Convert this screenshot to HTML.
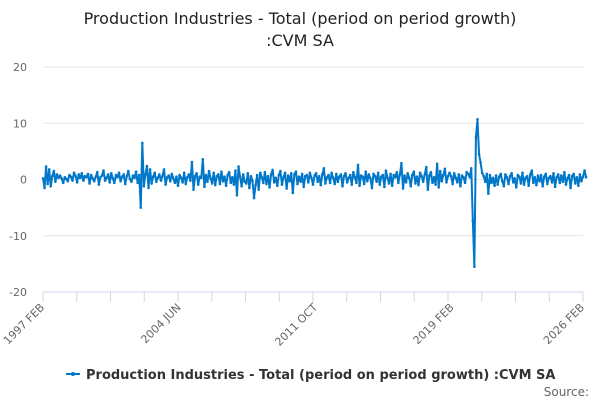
<!DOCTYPE html>
<html><head><meta charset="utf-8"><style>
body{margin:0;background:#fff;font-family:"DejaVu Sans","Liberation Sans",sans-serif}
svg text{font-family:"DejaVu Sans","Liberation Sans",sans-serif}
</style></head><body>
<svg id="chart" width="600" height="400" viewBox="0 0 600 400">
<text x="300" y="24" text-anchor="middle" font-size="16" fill="#222">Production Industries - Total (period on period growth)</text>
<text x="300" y="46" text-anchor="middle" font-size="16" fill="#222">:CVM SA</text>
<g id="grid"></g><g id="xaxis"></g><g id="series"></g>
<g>
<line x1="66" y1="374" x2="80" y2="374" stroke="#0077c8" stroke-width="2"/><circle cx="73" cy="374" r="2" fill="#0077c8"/>
<text x="86" y="379" font-size="13" font-weight="bold" fill="#333">Production Industries - Total (period on period growth) :CVM SA</text>
</g>
<text x="589" y="396" text-anchor="end" font-size="12" fill="#666">Source:</text>
</svg>
<script>
const yTicks=[20,10,0,-10,-20];
const xLabels=["1997 FEB","2004 JUN","2011 OCT","2019 FEB","2026 FEB"];
const xLabelIdx=[0,88,176,264,348];
const values=[
0.2,-1.5,2.3,-0.8,1.8,-1.2,0.6,1.5,-0.4,0.9,0.3,
0.7,0.2,-0.6,0.4,0.1,-0.3,0.8,0.5,-0.2,1.2,0.6,-0.5,
0.9,0.3,1.1,-0.2,0.6,0.4,1.0,-0.7,0.8,0.2,-0.3,0.5,
1.3,-0.9,0.4,0.7,1.6,-0.2,0.3,0.9,-0.5,1.1,0.2,-0.6,
0.8,0.4,1.2,-0.3,0.5,0.9,-0.8,0.6,1.5,0.1,-0.4,0.7,
0.3,1.4,-0.6,0.8,-5.0,6.5,-1.2,0.9,2.4,-1.5,1.8,-0.7,
0.5,1.2,-0.4,0.3,0.9,-0.2,0.6,1.8,-0.9,0.4,0.7,-0.3,
1.0,0.2,-0.6,0.5,-1.1,0.8,0.3,-0.5,1.2,-0.8,0.4,0.9,
-0.2,3.1,-1.8,0.6,1.1,-0.9,0.5,0.3,3.6,-1.3,0.8,-0.4,
1.5,0.2,-0.7,1.2,-1.0,0.6,0.9,-0.8,1.4,-0.3,0.5,-1.1,
0.8,1.3,-0.6,0.4,-0.9,1.6,-2.8,2.3,0.5,-1.2,0.9,-0.4,
-0.7,1.1,-1.5,0.6,-0.2,-3.3,-1.0,0.8,-1.8,1.2,0.4,-0.6,
1.3,-0.8,0.6,-1.4,0.9,1.7,-0.5,0.3,-1.1,0.8,1.5,-0.9,
0.4,1.2,-1.6,0.7,-0.3,1.1,-2.4,0.9,1.4,-0.8,0.5,-0.4,
1.0,-1.3,0.6,0.8,-0.5,1.2,0.3,-0.9,0.7,1.1,-0.4,0.6,
-1.0,0.9,2.0,-0.7,0.4,0.8,-0.6,1.2,0.3,-0.8,1.0,-0.4,
0.5,0.9,-1.2,0.6,1.1,-0.5,0.3,0.8,-0.9,1.3,0.4,-0.6,
2.6,-1.1,0.7,0.5,-0.8,1.4,-0.3,0.9,0.2,-1.5,1.0,0.6,
-0.4,1.2,-0.9,0.5,0.8,-1.3,1.6,0.3,-0.7,1.0,-1.1,0.8,
0.4,1.3,-0.6,0.9,2.9,-1.6,0.7,-0.5,1.1,0.3,-1.2,0.8,
1.4,-0.7,0.5,-1.0,1.2,0.6,-0.4,0.9,2.2,-1.8,0.7,1.3,
-0.6,0.4,-0.9,2.8,-1.4,1.5,-0.3,0.8,1.9,-0.5,0.6,1.2,
0.6,-0.8,1.1,0.3,-0.5,0.9,-1.2,0.7,0.4,-0.6,1.3,
1.0,0.4,2.0,-7.3,-15.5,7.5,10.7,4.5,3.0,1.2,0.6,-0.4,
1.0,-2.5,0.8,-0.6,0.3,-1.1,0.7,-0.9,0.5,1.0,-0.3,-1.2,
0.9,0.4,-0.8,0.6,1.1,-0.5,0.2,-1.4,0.8,0.5,-0.7,1.2,
-0.9,0.3,0.6,-1.1,0.9,1.6,-0.6,0.4,-1.0,0.7,-0.3,0.8,
-1.2,0.5,1.0,-0.8,0.3,0.6,-0.5,1.1,-1.3,0.4,0.9,-0.6,
0.7,-0.4,1.3,-0.9,0.2,0.8,-1.5,0.6,1.0,-0.7,0.4,-1.1,
0.9,-0.3,0.5,1.6,0.4
];
const NS="http://www.w3.org/2000/svg";
const L=43,R=583,T=67,B=292,yMin=-20,yMax=20,N=348;
const xs=i=>L+(R-L)*i/N;
const ys=v=>B-(v-yMin)/(yMax-yMin)*(B-T);
function mk(tag,attrs,parent){const e=document.createElementNS(NS,tag);for(const k in attrs)e.setAttribute(k,attrs[k]);parent.appendChild(e);return e;}
const grid=document.getElementById('grid'),xa=document.getElementById('xaxis'),ser=document.getElementById('series');
yTicks.forEach(t=>{
 const ln=mk('line',{x1:L,x2:R,y1:ys(t),y2:ys(t),stroke:t===-20?'#ccd6eb':'#e6e6e6','stroke-width':1},grid);
 
 
 const tx=mk('text',{x:27,y:ys(t)+4,'text-anchor':'end','font-size':11,fill:'#666'},grid);
 tx.textContent=t;
 
 
});
for(let k=0;k<=16;k++){
 const x=L+(R-L)*k/16;
 const tk=mk('line',{x1:x,x2:x,y1:B,y2:B+10,stroke:'#ccd6eb'},xa);
 
 
}
xLabels.forEach((lab,i)=>{
 const x=xs(xLabelIdx[i]);
 const tx=mk('text',{x:x+2,y:B+16,'text-anchor':'end','font-size':11,fill:'#666',transform:`rotate(-45 ${x+2} ${B+16})`},xa);
 tx.textContent=lab;
 
 
});
const pl=mk('polyline',{points:values.map((v,i)=>xs(i)+','+ys(v)).join(' '),fill:'none',stroke:'#0077c8','stroke-width':2,'stroke-linejoin':'round'},ser);


values.forEach((v,i)=>{
 const c=mk('circle',{cx:xs(i),cy:ys(v),r:1.3,fill:'#0077c8'},ser);
 
 
});
</script>
</body></html>
